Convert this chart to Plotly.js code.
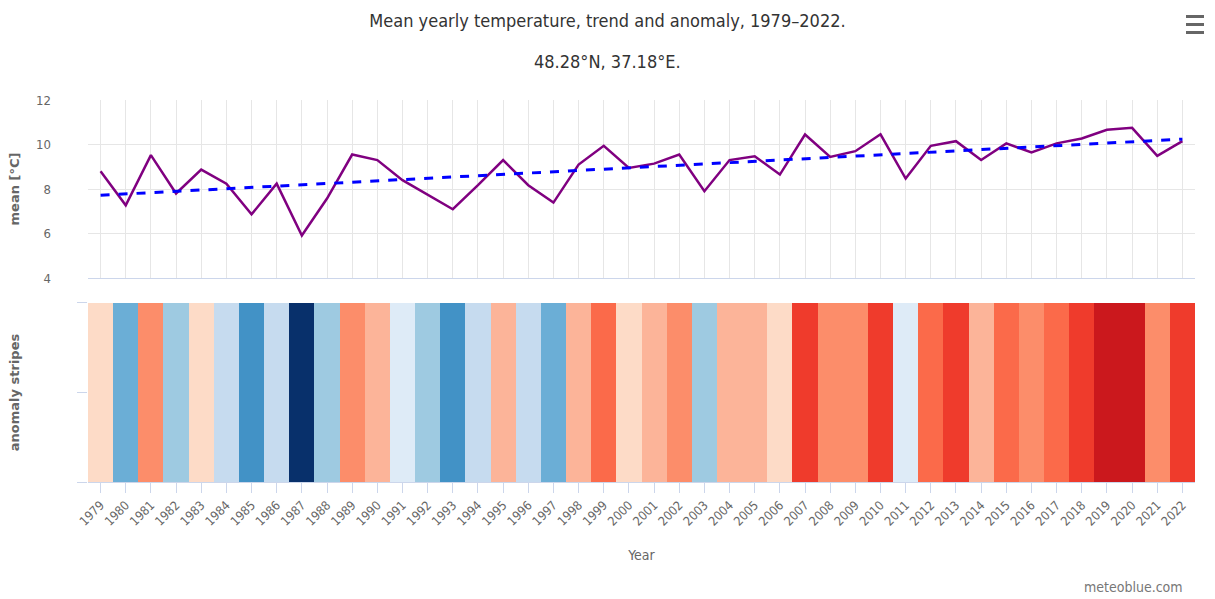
<!DOCTYPE html>
<html>
<head>
<meta charset="utf-8">
<script src="https://cdn.plot.ly/plotly-3.0.1.min.js"></script>
<style>html,body{margin:0;padding:0;background:#fff;}#chart{width:1215px;height:599px;}</style>
</head>
<body>
<div id="chart"></div>
<script>
const years = [1979,1980,1981,1982,1983,1984,1985,1986,1987,1988,1989,1990,1991,1992,1993,1994,1995,1996,1997,1998,1999,2000,2001,2002,2003,2004,2005,2006,2007,2008,2009,2010,2011,2012,2013,2014,2015,2016,2017,2018,2019,2020,2021,2022];
const meanTemp = [8.8,7.27,9.52,7.8,8.87,8.24,6.86,8.24,5.91,7.57,9.55,9.3,8.4,7.75,7.09,8.17,9.3,8.17,7.39,9.1,9.94,8.95,9.14,9.55,7.9,9.3,9.47,8.65,10.45,9.44,9.7,10.46,8.47,9.94,10.15,9.3,10.05,9.64,10.05,10.27,10.66,10.75,9.49,10.15];
const trendYears = [1979, 2022];
const trendValues = [7.72, 10.24];
const stripeColors = ['#fddbc7','#6baed6','#fc8d6a','#9ecae1','#fddbc7','#c6dbef','#4292c6','#c6dbef','#08306b','#9ecae1','#fc8d6a','#fcb499','#deebf7','#9ecae1','#4292c6','#c6dbef','#fcb499','#c6dbef','#6baed6','#fcb499','#fb6a4a','#fddbc7','#fcb499','#fc8d6a','#9ecae1','#fcb499','#fcb499','#fddbc7','#ef3b2c','#fc8d6a','#fc8d6a','#ef3b2c','#deebf7','#fb6a4a','#ef3b2c','#fcb499','#fb6a4a','#fc8d6a','#fb6a4a','#ef3b2c','#cb181d','#cb181d','#fc8d6a','#ef3b2c'];
const stripeHeight = years.map(() => 1);
const yTicks = [4,6,8,10,12];

const condensed = '"DejaVu Sans Condensed","Liberation Sans Narrow","Arial Narrow",sans-serif';
const gridC = '#e6e6e6';
const lineC = '#ccd6eb';
const xDom = [36/1143, 1];

const traces = [
  {type:'bar', x: years, y: stripeHeight, xaxis:'x2', yaxis:'y2', marker:{color: stripeColors, line:{width:0}}, width:1, hoverinfo:'x', showlegend:false},
  {type:'scatter', mode:'lines', x: years, y: meanTemp, xaxis:'x', yaxis:'y', line:{color:'#800080', width:2.5}, name:'mean', showlegend:false},
  {type:'scatter', mode:'lines', x: trendYears, y: trendValues, xaxis:'x', yaxis:'y', line:{color:'#0000ff', width:3, dash:'dash'}, name:'trend', showlegend:false}
];

const layout = {
  width:1215, height:599,
  margin:{l:51, r:20, t:100, b:117},
  paper_bgcolor:'#fff', plot_bgcolor:'#fff',
  bargap:0,
  font:{family:condensed, color:'#666', size:12},
  title:{text:'Mean yearly temperature, trend and anomaly, 1979–2022.', x:0.5, xref:'container', y:0.965, yref:'container', yanchor:'middle', font:{family:condensed, size:18, color:'#333'}},
  xaxis:{anchor:'y', domain:[37/1144, 1], range:[1978.5,2022.5], tickmode:'linear', tick0:1979, dtick:1, showticklabels:false, showgrid:true, gridcolor:gridC, zeroline:false, showline:true, linecolor:lineC, linewidth:1, ticks:''},
  yaxis:{anchor:'free', position:0, domain:[0.534,1], range:[4,12], tickvals:yTicks, showgrid:true, gridcolor:gridC, zeroline:false, ticks:'', tickfont:{family:condensed, size:13, color:'#666'},
    title:{text:'mean [°C]', standoff:12, font:{family:'DejaVu Sans', size:13, color:'#666', weight:'bold'}}},
  xaxis2:{anchor:'y2', domain:[37/1144, 1], range:[1978.5,2022.5], matches:'x', tickmode:'linear', tick0:1979, dtick:1, tickangle:-45, showgrid:false, zeroline:false, showline:true, linecolor:lineC, ticks:'outside', ticklen:10, tickcolor:lineC, tickfont:{family:condensed, size:12.5, color:'#666'},
    title:{text:'Year', standoff:22, font:{family:condensed, size:14, color:'#666'}}},
  yaxis2:{anchor:'x2', domain:[0,0.4686], range:[0,1], tickvals:[0,0.5,1], showticklabels:false, showgrid:true, gridcolor:gridC, zeroline:false, ticks:'outside', ticklen:10, tickcolor:lineC,
    title:{text:'anomaly stripes', standoff:54, font:{family:'DejaVu Sans', size:13, color:'#666', weight:'bold'}}},
  annotations:[
    {text:'48.28°N, 37.18°E.', xref:'paper', yref:'paper', x:(607-51)/1144, y:1.0995, xanchor:'center', yanchor:'middle', showarrow:false, font:{family:condensed, size:18, color:'#333'}},
    {text:'meteoblue.com', xref:'paper', yref:'paper', x:(1185-51)/1144, y:-0.275, xanchor:'right', yanchor:'middle', showarrow:false, font:{family:condensed, size:14, color:'#777'}}
  ],
  shapes:[
    {type:'rect', xref:'paper', yref:'paper', x0:(1186-51)/1144, x1:(1204-51)/1144, y0:1.2147, y1:1.2225, fillcolor:'#666', line:{width:0}},
    {type:'rect', xref:'paper', yref:'paper', x0:(1186-51)/1144, x1:(1204-51)/1144, y0:1.1937, y1:1.2016, fillcolor:'#666', line:{width:0}},
    {type:'rect', xref:'paper', yref:'paper', x0:(1186-51)/1144, x1:(1204-51)/1144, y0:1.1728, y1:1.1806, fillcolor:'#666', line:{width:0}}
  ]
};

Plotly.newPlot('chart', traces, layout, {displayModeBar:false, responsive:false});
</script>
</body>
</html>
